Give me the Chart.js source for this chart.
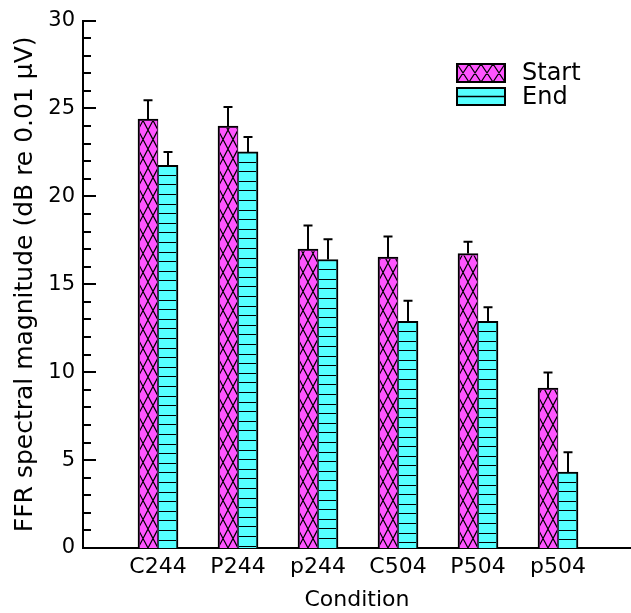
<!DOCTYPE html>
<html><head><meta charset="utf-8">
<script src="https://cdn.jsdelivr.net/npm/chart.js@4/dist/chart.umd.min.js"></script>
<style>html,body{margin:0;padding:0;background:#fff;}</style>
</head><body>
<canvas id="c" width="631" height="613" style="display:block;width:631px;height:613px"></canvas>
<script>
const categories = ['C244', 'P244', 'p244', 'C504', 'P504', 'p504'];
const seriesNames = ['Start', 'End'];
const startValues = [24.4, 24.0, 17.0, 16.55, 16.75, 9.1];
const startErrors = [1.07, 1.08, 1.34, 1.17, 0.67, 0.88];
const endValues = [21.77, 22.53, 16.41, 12.89, 12.89, 4.32];
const endErrors = [0.76, 0.85, 1.15, 1.17, 0.81, 1.13];
const yTickValues = [0, 5, 10, 15, 20, 25, 30];
const yTitle = 'FFR spectral magnitude (dB re 0.01 \u00B5V)';
const xTitle = 'Condition';

const FONT = "'DejaVu Sans'";
const MAGENTA = '#FF55FF';
const CYAN = '#55FFFF';

function drawCross(ctx, left, right, top, base, w, h) {
  const H = base - top;
  const kMin = Math.floor(-H / h) - 2;
  const kMax = Math.ceil((right - left) / w) + Math.ceil(H / h) + 2;
  ctx.beginPath();
  for (let k = kMin; k <= kMax; k++) {
    const x0 = left + k * w;
    ctx.moveTo(x0, base); ctx.lineTo(x0 + H * w / h, top);
    ctx.moveTo(x0, base); ctx.lineTo(x0 - H * w / h, top);
  }
  ctx.stroke();
}
function drawHoriz(ctx, left, right, top, base, step) {
  ctx.beginPath();
  for (let yy = top + step; yy < base - 1; yy += step) {
    const py = Math.round(yy) + 0.5;
    ctx.moveTo(left, py); ctx.lineTo(right, py);
  }
  ctx.stroke();
}

const hatchPlugin = {
  id: 'hatch',
  afterDatasetsDraw(chart) {
    const ctx = chart.ctx;
    const yScale = chart.scales.y;
    chart.data.datasets.forEach((ds, di) => {
      const meta = chart.getDatasetMeta(di);
      meta.data.forEach((bar, i) => {
        const p = bar.getProps(['x', 'y', 'base', 'width'], true);
        const left = p.x - p.width / 2, right = p.x + p.width / 2;
        const bl = di === 0 ? 2 : 1, br = di === 0 ? 1 : 2;
        ctx.save();
        ctx.beginPath();
        ctx.rect(left + bl, p.y + 2, p.width - bl - br, p.base - p.y - 2);
        ctx.clip();
        ctx.strokeStyle = '#000';
        if (ds.hatch === 'cross') {
          ctx.lineWidth = 1.2;
          drawCross(ctx, left, right, p.y, p.base, 10, 19);
        } else {
          ctx.lineWidth = 1;
          drawHoriz(ctx, left, right, p.y, p.base, 9.6);
        }
        ctx.restore();
        // error bar
        const errs = ds.errors;
        const val = ds.data[i].y;
        const topPx = yScale.getPixelForValue(val + errs[i]);
        ctx.save();
        ctx.strokeStyle = '#000';
        ctx.lineWidth = 2;
        ctx.beginPath();
        ctx.moveTo(p.x, p.y); ctx.lineTo(p.x, topPx);
        ctx.moveTo(p.x - 4.5, topPx); ctx.lineTo(p.x + 4.5, topPx);
        ctx.stroke();
        ctx.restore();
      });
    });
  },
  afterDraw(chart) {
    const ctx = chart.ctx;
    const yScale = chart.scales.y;
    const ax = chart.chartArea.left;
    // inward y ticks
    ctx.save();
    ctx.strokeStyle = '#000';
    ctx.lineWidth = 2;
    ctx.beginPath();
    for (let v = yScale.min; v <= yScale.max; v++) {
      const py = Math.round(yScale.getPixelForValue(v));
      const len = v % 5 === 0 ? 13 : 8;
      ctx.moveTo(ax, py); ctx.lineTo(ax + len, py);
    }
    ctx.stroke();
    ctx.restore();
    // legend
    const items = [
      { name: seriesNames[0], fill: MAGENTA, hatch: 'cross', x: 457, y: 64, w: 48, h: 18 },
      { name: seriesNames[1], fill: CYAN, hatch: 'horiz', x: 457, y: 88, w: 48, h: 17 }
    ];
    items.forEach(it => {
      ctx.save();
      ctx.fillStyle = it.fill;
      ctx.fillRect(it.x, it.y, it.w, it.h);
      ctx.beginPath(); ctx.rect(it.x, it.y, it.w, it.h); ctx.clip();
      ctx.strokeStyle = '#000';
      ctx.lineWidth = 1.2;
      if (it.hatch === 'cross') {
        ctx.beginPath();
        for (let k = -2; k <= 6; k++) {
          const x0 = it.x + k * 12;
          ctx.moveTo(x0, it.y); ctx.lineTo(x0 + 12, it.y + it.h);
          ctx.moveTo(x0 + 12, it.y); ctx.lineTo(x0, it.y + it.h);
        }
        ctx.stroke();
      } else {
        ctx.lineWidth = 1.5;
        ctx.beginPath();
        ctx.moveTo(it.x, it.y + it.h / 2); ctx.lineTo(it.x + it.w, it.y + it.h / 2);
        ctx.stroke();
      }
      ctx.restore();
      ctx.save();
      ctx.strokeStyle = '#000';
      ctx.lineWidth = 2;
      ctx.strokeRect(it.x, it.y, it.w, it.h);
      ctx.fillStyle = '#000';
      ctx.font = '24px ' + FONT;
      ctx.textBaseline = 'middle';
      ctx.textAlign = 'left';
      ctx.fillText(it.name, 522, it.y + it.h / 2 + 1);
      ctx.restore();
    });
  }
};

const startData = categories.map((c, i) => ({ x: i + 1, y: startValues[i] }));
const endData = categories.map((c, i) => ({ x: i + 1, y: endValues[i] }));

new Chart(document.getElementById('c'), {
  type: 'bar',
  data: {
    datasets: [
      { label: seriesNames[0], data: startData, errors: startErrors, hatch: 'cross',
        backgroundColor: MAGENTA, borderColor: '#000',
        borderWidth: { top: 2, left: 2, right: 1, bottom: 0 }, borderSkipped: false,
        barThickness: 20 },
      { label: seriesNames[1], data: endData, errors: endErrors, hatch: 'horiz',
        backgroundColor: CYAN, borderColor: '#000',
        borderWidth: { top: 2, left: 1, right: 2, bottom: 0 }, borderSkipped: false,
        barThickness: 20 }
    ]
  },
  options: {
    responsive: false,
    animation: false,
    devicePixelRatio: 1,
    layout: { padding: { top: 18, left: 0, right: 0, bottom: 0 } },
    plugins: { legend: { display: false }, tooltip: { enabled: false } },
    scales: {
      x: {
        type: 'linear', min: 0.0625, max: 6.9125, offset: false,
        grid: { display: false, drawTicks: false, offset: false },
        border: { display: true, color: '#000', width: 2 },
        afterBuildTicks: s => { s.ticks = categories.map((c, i) => ({ value: i + 1 })); },
        ticks: { callback: v => categories[Math.round(v) - 1], color: '#000',
                 font: { family: FONT, size: 22 }, padding: 6, maxRotation: 0, autoSkip: false },
        title: { display: true, text: xTitle, color: '#000', font: { family: FONT, size: 22 },
                 padding: { top: 0, bottom: 0 } },
        afterFit: s => { s.height = 65; }
      },
      y: {
        min: 0, max: 30,
        afterBuildTicks: s => { s.ticks = yTickValues.map(v => ({ value: v })); },
        grid: { display: false, drawTicks: false },
        border: { display: true, color: '#000', width: 2 },
        ticks: { color: '#000', font: { family: FONT, size: 21 }, padding: 8 },
        title: { display: true, text: yTitle, color: '#000', font: { family: FONT, size: 25 },
                 padding: { top: 10, bottom: 0 } },
        afterFit: s => { s.width = 83; }
      }
    }
  },
  plugins: [hatchPlugin]
});
</script>
</body></html>
